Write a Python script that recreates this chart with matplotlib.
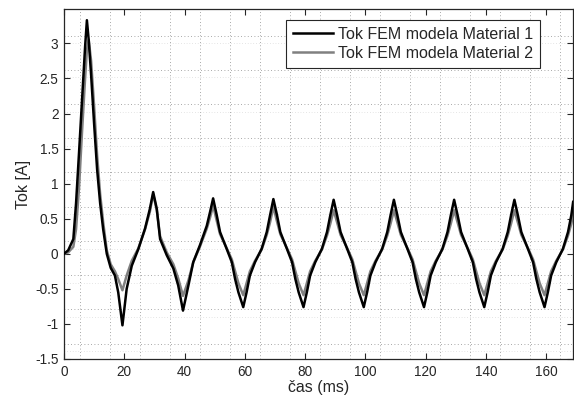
import matplotlib
matplotlib.use('Agg')
import matplotlib.pyplot as plt

plt.rcParams.update({
    'font.family': ['Liberation Sans', 'DejaVu Sans'],
    'font.size': 9.5,
})

# time axis (ms), shared by both series
t_ms = [0, 1.4, 3.1, 4.0, 5.0, 6.0, 7.0, 7.6, 8.2, 9.0, 10.0, 11.0, 12.0, 13.0,
        14.2, 15.5, 16.9, 18.0, 19.4, 20.8, 22.5, 24.7, 26.9, 28.5, 29.6, 30.8,
        31.9, 34.1, 36.3, 37.9, 39.5, 41.3, 42.9, 45.1, 47.4, 48.5,
        49.5, 50.7, 51.8, 54.0, 55.7, 56.8, 57.9, 59.5, 60.6, 61.7, 63.4, 65.6, 67.3, 68.4,
        69.5, 70.7, 71.8, 74.0, 75.7, 76.8, 77.9, 79.5, 80.6, 81.7, 83.4, 85.6, 87.3, 88.4,
        89.5, 90.7, 91.8, 94.0, 95.7, 96.8, 97.9, 99.5, 100.6, 101.7, 103.4, 105.6, 107.3, 108.4,
        109.5, 110.7, 111.8, 114.0, 115.7, 116.8, 117.9, 119.5, 120.6, 121.7, 123.4, 125.6, 127.3, 128.4,
        129.5, 130.7, 131.8, 134.0, 135.7, 136.8, 137.9, 139.5, 140.6, 141.7, 143.4, 145.6, 147.3, 148.4,
        149.5, 150.7, 151.8, 154.0, 155.7, 156.8, 157.9, 159.5, 160.6, 161.7, 163.4, 165.6, 167.3, 168.4,
        169.0]

tok_mat1 = [0, 0.05, 0.21, 0.72, 1.45, 2.2, 2.95, 3.33, 3.05, 2.55, 1.85, 1.2, 0.72, 0.35,
            0.0, -0.2, -0.31, -0.55, -1.02, -0.5, -0.17, 0.07, 0.36, 0.64, 0.88, 0.64,
            0.21, -0.02, -0.21, -0.45, -0.81, -0.45, -0.12, 0.12, 0.40, 0.6,
            0.79, 0.55, 0.31, 0.07, -0.12, -0.36, -0.55, -0.76, -0.55, -0.31, -0.12, 0.07, 0.31, 0.55,
            0.78, 0.55, 0.31, 0.07, -0.12, -0.36, -0.55, -0.76, -0.55, -0.31, -0.12, 0.07, 0.31, 0.55,
            0.77, 0.54, 0.31, 0.07, -0.12, -0.36, -0.55, -0.76, -0.55, -0.31, -0.12, 0.07, 0.31, 0.55,
            0.77, 0.54, 0.31, 0.07, -0.12, -0.36, -0.55, -0.76, -0.55, -0.31, -0.12, 0.07, 0.31, 0.55,
            0.77, 0.54, 0.31, 0.07, -0.12, -0.36, -0.55, -0.76, -0.55, -0.31, -0.12, 0.07, 0.31, 0.55,
            0.77, 0.54, 0.31, 0.07, -0.12, -0.36, -0.55, -0.76, -0.55, -0.31, -0.12, 0.07, 0.31, 0.55,
            0.74]

tok_mat2 = [0, 0.02, 0.1, 0.35, 0.95, 1.75, 2.5, 2.9, 3.05, 2.75, 2.1, 1.4, 0.85, 0.45,
            0.05, -0.15, -0.25, -0.36, -0.52, -0.31, -0.1, 0.08, 0.35, 0.6, 0.85, 0.62,
            0.25, 0.02, -0.15, -0.35, -0.6, -0.38, -0.12, 0.1, 0.36, 0.52,
            0.69, 0.47, 0.28, 0.08, -0.08, -0.25, -0.42, -0.59, -0.42, -0.25, -0.1, 0.06, 0.27, 0.45,
            0.67, 0.46, 0.28, 0.08, -0.08, -0.25, -0.42, -0.59, -0.42, -0.25, -0.1, 0.06, 0.26, 0.43,
            0.62, 0.44, 0.27, 0.08, -0.08, -0.25, -0.42, -0.59, -0.42, -0.25, -0.1, 0.06, 0.26, 0.43,
            0.62, 0.44, 0.27, 0.08, -0.08, -0.25, -0.42, -0.59, -0.42, -0.25, -0.1, 0.06, 0.26, 0.43,
            0.62, 0.44, 0.27, 0.08, -0.08, -0.25, -0.42, -0.59, -0.42, -0.25, -0.1, 0.06, 0.26, 0.43,
            0.62, 0.44, 0.27, 0.08, -0.08, -0.25, -0.42, -0.59, -0.42, -0.25, -0.1, 0.06, 0.26, 0.43,
            0.57]

series_names = ['Tok FEM modela Material 1', 'Tok FEM modela Material 2']
x_ticks = [0, 20, 40, 60, 80, 100, 120, 140, 160]
y_ticks = [-1.5, -1, -0.5, 0, 0.5, 1, 1.5, 2, 2.5, 3]
y_tick_labels = ['-1.5', '-1', '-0.5', '0', '0.5', '1', '1.5', '2', '2.5', '3']

ax_col = '#262626'

fig = plt.figure(figsize=(5.74, 4.0), dpi=100)
ax = fig.add_axes([0.1115, 0.1025, 0.887, 0.875])

# dotted grid (as in the MATLAB export, slightly off the ticks)
for gx in [5.3 + 9.96 * k for k in range(17)]:
    ax.axvline(gx, color='#8c8c8c', lw=0.6, ls=(0, (1, 3)), zorder=0)
for k in range(10):
    gy = -1.28 + 0.488 * k
    ax.axhline(gy, color='#8c8c8c', lw=0.6, ls=(0, (1, 3)), zorder=0)
    ax.axhline(gy - 0.11, color='#cccccc', lw=0.5, ls=(0, (1, 3)), zorder=0)

ax.plot(t_ms, tok_mat1, color='black', lw=1.8, label=series_names[0], zorder=3)
ax.plot(t_ms, tok_mat2, color='#808080', lw=1.8, label=series_names[1], zorder=2)

ax.set_xlim(0, 169)
ax.set_ylim(-1.5, 3.49)
ax.set_xticks(x_ticks)
ax.set_yticks(y_ticks)
ax.set_yticklabels(y_tick_labels)
ax.tick_params(direction='in', length=4, width=0.8, colors=ax_col,
               top=True, right=True, labelsize=9.8, pad=4)
for s in ax.spines.values():
    s.set_color(ax_col)
    s.set_linewidth(0.9)

ax.set_xlabel('čas (ms)', fontsize=11.5, color=ax_col, labelpad=1)
ax.set_ylabel('Tok [A]', fontsize=11.5, color=ax_col, labelpad=3)

leg = ax.legend(loc='upper right', bbox_to_anchor=(0.935, 0.969), borderaxespad=0,
                fontsize=11.5, fancybox=False, framealpha=1, edgecolor=ax_col,
                handlelength=2.5, handletextpad=0.3, labelspacing=0.22,
                borderpad=0.45)
leg.get_frame().set_linewidth(0.8)
for txt in leg.get_texts():
    txt.set_color(ax_col)

plt.savefig('out.png', dpi=100)
plt.close(fig)
